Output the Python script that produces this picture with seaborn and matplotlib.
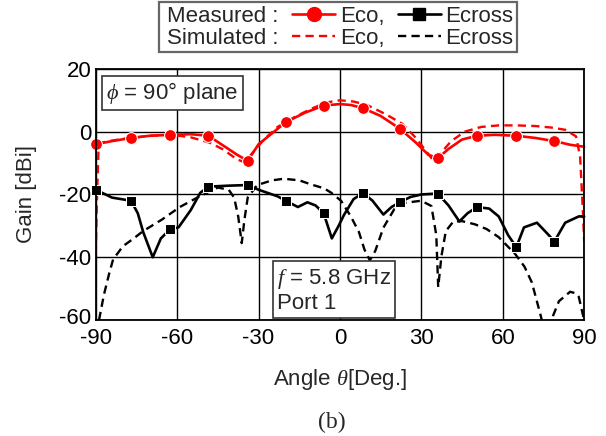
import numpy as np
import pandas as pd
import matplotlib
matplotlib.use("Agg")
import matplotlib.pyplot as plt
from matplotlib.lines import Line2D
from matplotlib.transforms import ScaledTranslation
import seaborn as sns

# measured co-pol (theta, gain) - markers where flagged
meas_eco_theta = [-90, -84, -77, -70, -62.5, -55, -48.5, -42, -38, -34, -30, -25, -20, -13, -6, 0, 4,
                  8.5, 15, 22, 28, 32.5, 36, 40, 45, 50.5, 57, 65, 72, 79, 85, 90]
meas_eco_gain = [-4, -3, -2, -1.3, -1, -0.8, -1.3, -5, -7.3, -9.3, -4, -0.5, 3, 6, 8.3, 8.8, 8.5,
                 7.5, 5, 1, -3.5, -7.3, -8.5, -5.5, -2.5, -1.3, -1, -1.3, -2, -3, -4.2, -4.8]
meas_eco_marks = [-90, -77, -62.5, -48.5, -34, -20, -6, 8.5, 22, 36, 50.5, 65, 79]

sim_eco_theta = [-90, -89.5, -89, -88, -85, -80, -77, -70, -62, -55, -48, -43, -38, -35, -32, -28,
                 -23, -16, -10, -5, 0, 5, 10, 17, 23, 28, 32, 34.5, 37, 41, 46, 52, 58.5, 65, 72,
                 78, 83, 87, 88.5, 89.5, 90]
sim_eco_gain = [-39, -20, -6, -3.5, -3, -2.3, -2, -1.3, -1, -1.8, -3.5, -5.7, -8.8, -9.8, -6.5, -2.5,
                1.5, 5, 7.5, 9.3, 10, 9.6, 8.5, 5.5, 2.5, -2, -6.5, -9.3, -7, -3, 0, 1.5, 2, 2, 1.8,
                1.3, 0.6, -1.5, -8, -25, -35]

meas_ex_theta = [-90, -84, -77, -74.5, -72.5, -69, -66, -62.5, -59.5, -55, -51.5, -48.5, -41, -34,
                 -30, -23, -20, -15.5, -12, -9, -6, -3, -0.5, 1.5, 5, 8.5, 12, 16, 19, 22, 26, 30,
                 36, 40, 44, 47, 50.5, 55, 58.5, 62, 65, 67.8, 72.6, 77, 79, 83, 88, 90]
meas_ex_gain = [-18.5, -21, -22, -26, -32, -40, -34, -31, -30.5, -25, -19.5, -17.5, -17.2, -17,
                -18.5, -20.6, -22, -24, -22.5, -23.5, -26, -34, -30, -26.5, -21.5, -19.5, -22, -26.4,
                -24, -22.5, -20.8, -20, -19.7, -23.5, -28.6, -26, -24, -24.5, -27, -33, -36.8,
                -30.5, -29, -33, -35, -29, -27, -27]
meas_ex_marks = [-90, -77, -62.5, -48.5, -34, -20, -6, 8.5, 22, 36, 50.5, 65, 79]

sim_ex_theta = [-88.8, -88.5, -87, -85, -83.6, -80, -76, -72.6, -65.6, -59, -52.6, -45, -41, -39,
                -37.5, -36.2, -35.2, -34, -30.5, -25, -20.7, -15, -10.7, -6, -3.3, 0.4, 4, 7, 9,
                11, 13, 16, 20, 24.4, 30, 33.7, 35.5, 36.2, 37.4, 39, 41.8, 45, 49.7, 54, 58.5,
                64.6, 68, 70.7, 73.8, 75.5, 77, 78.5, 80.7, 84.8, 87, 88, 89.3, 90]
sim_ex_gain = [-60, -58.7, -52, -45, -40.7, -36.5, -34, -31.7, -28, -24, -21, -17.8, -18.5, -21,
               -27, -35.5, -28, -21, -17, -15.5, -15, -15.5, -16.8, -18, -19.4, -22, -27, -32,
               -37.5, -41, -38, -30.6, -24.7, -22.6, -22, -23.7, -33, -49.5, -39.6, -31.7, -28.6,
               -28.5, -29.5, -31, -33.6, -39, -43, -48, -58, -64, -64, -58.7, -54, -51, -51.5,
               -52.6, -57.5, -60]

x_ticks = [-90, -60, -30, 0, 30, 60, 90]
y_ticks = [-60, -40, -20, 0, 20]

sns.set_theme(style="white")
plt.rcParams['font.family'] = ['Liberation Sans', 'DejaVu Sans']
plt.rcParams['mathtext.fontset'] = 'custom'
plt.rcParams['mathtext.it'] = 'Liberation Serif:italic'
plt.rcParams['axes.unicode_minus'] = False

FS = 16

fig = plt.figure(figsize=(6.06, 4.36), dpi=100)
ax = fig.add_axes([0.158, 0.266, 0.806, 0.576])

red = "#ff0000"
dash = (0, (3.5, 2.2))

def idx(theta, marks):
    return [i for i, t in enumerate(theta) if t in marks]

sns.lineplot(x=sim_eco_theta, y=sim_eco_gain, ax=ax, color=red, lw=1.7, linestyle=dash,
             sort=False, errorbar=None)
sns.lineplot(x=sim_ex_theta, y=sim_ex_gain, ax=ax, color="black", lw=1.7, linestyle=dash,
             sort=False, errorbar=None)
sns.lineplot(x=meas_eco_theta, y=meas_eco_gain, ax=ax, color=red, lw=1.9, marker="o",
             markersize=8.5, markevery=idx(meas_eco_theta, meas_eco_marks), sort=False,
             errorbar=None, clip_on=False)
sns.lineplot(x=meas_ex_theta, y=meas_ex_gain, ax=ax, color="black", lw=1.9, marker="s",
             markersize=7.5, markevery=idx(meas_ex_theta, meas_ex_marks), sort=False,
             errorbar=None, clip_on=False)

ax.set_xlim(-90, 90)
ax.set_ylim(-60, 20)
ax.set_xticks(x_ticks)
ax.set_yticks(y_ticks)
ax.tick_params(axis="both", length=0, labelsize=FS, colors="black")
ax.tick_params(axis="x", pad=6)
ax.tick_params(axis="y", pad=3)
ax.grid(True, color="black", lw=1)
for s in ax.spines.values():
    s.set_color("black")
    s.set_linewidth(1.3)

# nudge the bottom y label up a little so it clears the first x label
lbl = ax.get_yticklabels()[0]
lbl.set_transform(lbl.get_transform() + ScaledTranslation(0, 3 / 72, fig.dpi_scale_trans))

ax.set_xlabel(r"Angle $\mathit{\theta}$[Deg.]", fontsize=FS, labelpad=13)
ax.set_ylabel("Gain [dBi]", fontsize=FS, labelpad=16)

box = dict(boxstyle="square,pad=0.18", fc="white", ec="#333333", lw=1.2)
ax.text(0.022, 0.955, r"$\phi$ = 90° plane", transform=ax.transAxes, ha="left", va="top",
        fontsize=FS, bbox=box)
ax.text(0.372, 0.025, "$f$ = 5.8 GHz\nPort 1", transform=ax.transAxes, ha="left", va="bottom",
        fontsize=FS, bbox=box, linespacing=1.1)


class NoHandle:
    # zero-width, invisible legend handle for the row titles
    def legend_artist(self, legend, orig_handle, fontsize, handlebox):
        handlebox.width = 0
        a = Line2D([], [], color="none")
        handlebox.add_artist(a)
        return a


title_m = Line2D([], [], color="none")
title_s = Line2D([], [], color="none")
handles = [
    title_m,
    title_s,
    Line2D([], [], color=red, lw=1.9, marker="o", markersize=10),
    Line2D([], [], color=red, lw=1.7, linestyle=dash),
    Line2D([], [], color="black", lw=1.9, marker="s", markersize=9),
    Line2D([], [], color="black", lw=1.7, linestyle=dash),
]
labels = ["Measured :", "Simulated :", "Eco,", "Eco,", "Ecross", "Ecross"]
leg = fig.legend(handles, labels, ncol=3, loc="upper center", bbox_to_anchor=(0.558, 0.995),
                 fontsize=FS, frameon=True, fancybox=False, edgecolor="#404040",
                 borderpad=0.15, labelspacing=0.05, handlelength=1.95, handletextpad=0.2,
                 columnspacing=0.6, borderaxespad=0.0,
                 handler_map={title_m: NoHandle(), title_s: NoHandle()})
leg.get_frame().set_linewidth(1.6)

fig.text(0.548, 0.03, "(b)", ha="center", va="center", fontsize=17, family="Liberation Serif")

fig.savefig("out.png", dpi=100)
